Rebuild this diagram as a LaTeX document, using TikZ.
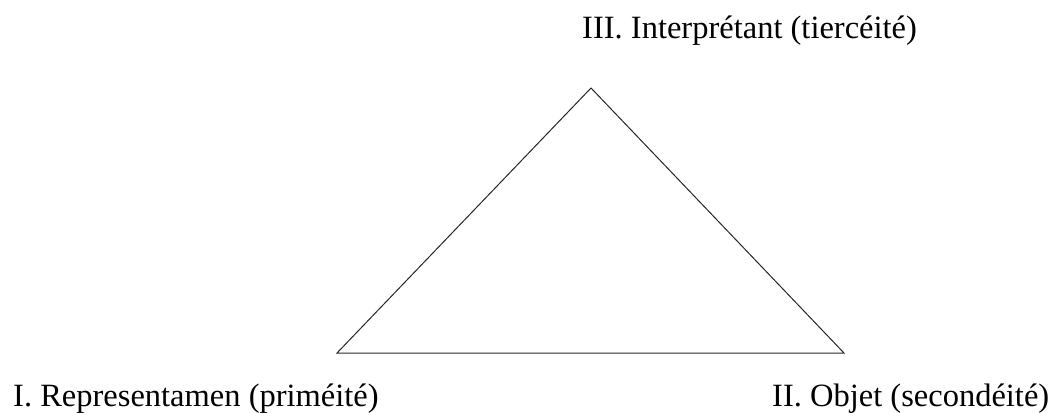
\documentclass[tikz,border=0pt]{standalone}
\usepackage{fontspec}
\setmainfont{Liberation Serif}
\begin{document}
\begin{tikzpicture}[x=1pt,y=-1pt,
  lbl/.style={anchor=base west,inner sep=0pt,font=\fontsize{32.5}{38}\selectfont,text=black},
  edge/.style={draw=black!85,line width=1pt,line join=miter}]
\useasboundingbox (0,0) rectangle (1048,412);
\coordinate (A) at (591,88);
\coordinate (L) at (337,353);
\coordinate (R) at (844,353);
\draw[edge] (A) -- (L) -- (R) -- cycle;
\node[lbl] (t3) at (582,38) {III. Interprétant (tiercéité)};
\node[lbl] (t1) at (13,406) {I. Representamen (priméité)};
\node[lbl] (t2) at (772,406) {II. Objet (secondéité)};
\end{tikzpicture}
\end{document}
